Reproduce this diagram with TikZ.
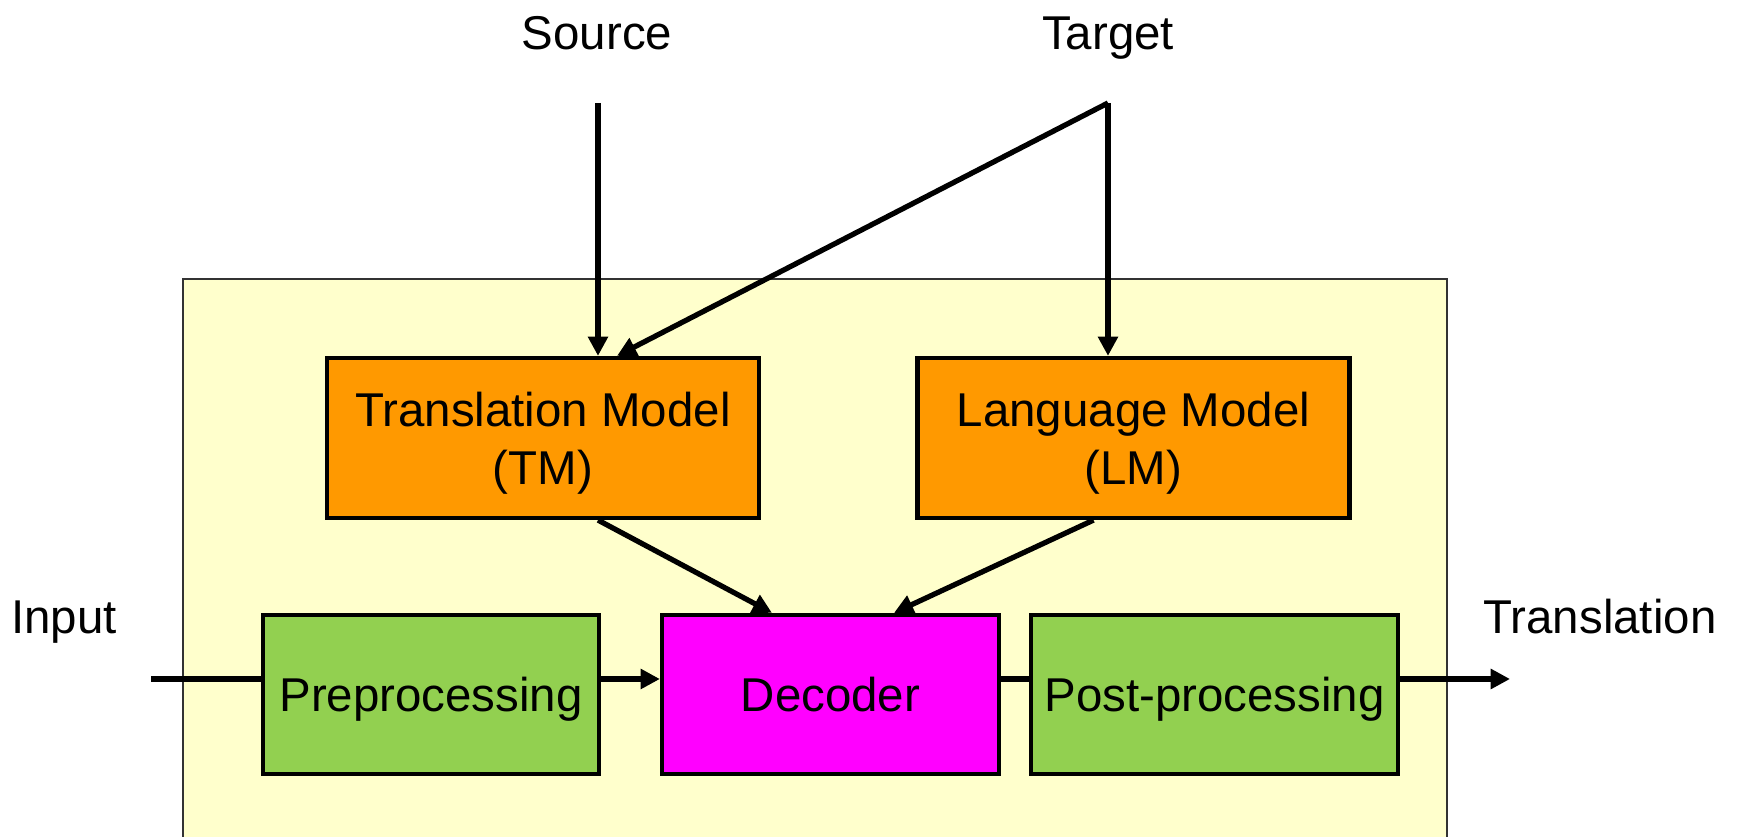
\documentclass[tikz,border=0pt]{standalone}
\usepackage{fontspec}
\setmainfont{Liberation Sans}
\usetikzlibrary{arrows.meta}
\usetikzlibrary{calc}
\definecolor{PaleYellow}{HTML}{FFFFCC}
\definecolor{ModelOrange}{HTML}{FF9900}
\definecolor{StageGreen}{HTML}{92D050}
\definecolor{DecMagenta}{HTML}{FF00FF}

\begin{document}
\begin{tikzpicture}[every node/.style={font=\fontsize{13.5}{16.7}\selectfont},
  block/.style={draw, line width=1.2pt, align=center, inner sep=0pt},
  model/.style={block, fill=ModelOrange, minimum width=4.32cm, minimum height=1.6cm,
    text height=1.04cm, text depth=0.1cm},
  stage/.style={block, fill=StageGreen, minimum width=3.36cm, minimum height=1.59cm,
    text height=0.45cm, text depth=0.1cm},
  flow/.style={line width=1.5pt, -{Triangle[length=5.5pt,width=5.5pt]}},
  wire/.style={line width=1.5pt}]

  \clip (0,0) rectangle (17.37,8.37);
  \draw[fill=PaleYellow, draw=black!80, line width=0.6pt] (1.83,-1) rectangle (14.47,5.58);

  \node[model] (TransModel) at (5.43,3.99) {Translation Model\\(TM)};
  \node[model] (LangModel) at (11.335,3.99) {Language Model\\(LM)};
  \node[stage] (PreProc) at (4.31,1.425) {Preprocessing};
  \node[stage, fill=DecMagenta, minimum width=3.37cm] (Decoder) at (8.305,1.425) {Decoder};
  \node[stage, minimum width=3.67cm] (PostProc) at (12.145,1.425) {Post-processing};

  \node[anchor=base] (Source) at (5.97,7.87) {Source};
  \node[anchor=base] (Target) at (11.08,7.87) {Target};
  \node[anchor=base] (Input) at (0.64,2.03) {Input};
  \node[anchor=base] (Translation) at (16.0,2.03) {Translation};

  \coordinate (SourceTop) at (5.98,7.34);
  \coordinate (TargetTop) at (11.08,7.34);
  \coordinate (InStart) at (1.51,1.58);
  \coordinate (OutEnd) at (15.10,1.58);

  % models
  \draw[flow] (SourceTop) -- (SourceTop |- TransModel.north);
  \draw[flow] (TargetTop) -- ([xshift=0.74cm]TransModel.north);
  \draw[flow] (TargetTop) -- (TargetTop |- LangModel.north);
  \draw[flow] (TransModel.south -| SourceTop) -- ([xshift=-0.585cm]Decoder.north);
  \draw[flow] ([xshift=-0.4cm]LangModel.south) -- ([xshift=0.635cm]Decoder.north);

  % pipeline
  \draw[wire] (InStart) -- (InStart -| PreProc.west);
  \draw[flow] (PreProc.east |- InStart) -- (Decoder.west |- InStart);
  \draw[wire] (Decoder.east |- InStart) -- (PostProc.west |- InStart);
  \draw[flow] (PostProc.east |- InStart) -- (OutEnd);
\end{tikzpicture}
\end{document}
